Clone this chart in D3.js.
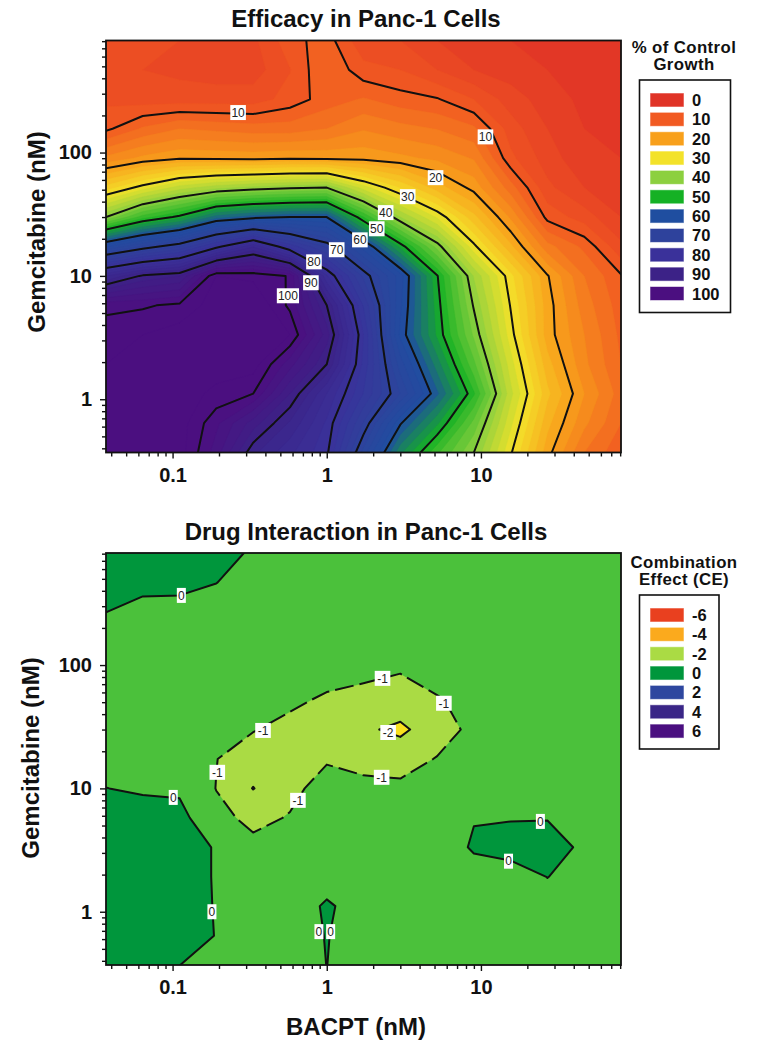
<!DOCTYPE html>
<html>
<head>
<meta charset="utf-8">
<script src="https://cdnjs.cloudflare.com/ajax/libs/d3/7.8.5/d3.min.js"></script>
<style>
  html, body { margin: 0; padding: 0; background: #fff; }
  svg { display: block; font-family: "Liberation Sans", Arial, sans-serif; }
</style>
</head>
<body>
<svg width="759" height="1050"></svg>
<script>
// Doses of the 3-fold dilution series, with the half steps
const bacptDoses = [0.037, 0.064, 0.111, 0.192, 0.333, 0.577, 1, 1.73, 3, 5.2, 9, 15.6, 27, 46.8, 81];
const gemDoses = [810, 468, 270, 156, 90, 52, 30, 17.3, 10, 5.77, 3.33, 1.92, 1.11, 0.64, 0.37];

// % of control growth, one column per BACPT dose, gemcitabine high to low
const efficacyColumns = [
  [8, 7, 7.5, 9.5, 16.5, 26.8, 40, 63.7, 86, 99.5, 101, 102, 102, 102, 102],
  [7, 6, 7, 12.3, 18.5, 31, 47, 68.4, 90.4, 99.7, 102, 102, 102, 102, 102],
  [6, 5.5, 7, 14, 19.7, 35, 50.7, 72, 92, 100.5, 103, 103, 103, 103, 103],
  [5.5, 5, 7, 13.5, 19.5, 37.3, 57, 79, 102, 103, 103, 103, 101.5, 98.5, 97],
  [5.5, 5, 7, 13, 19.3, 38.6, 59, 85.8, 101.5, 104, 104, 103, 100, 93, 88.5],
  [9.2, 7.9, 8.8, 13, 19.7, 39.5, 60, 77.3, 99.8, 99.5, 102, 96.8, 92, 87.7, 84.5],
  [11, 12, 11, 14, 19.5, 40, 60, 71.5, 82.3, 90, 93, 90, 84, 81.6, 80.5],
  [6.5, 8.7, 12.2, 15.8, 19.3, 33, 48, 63, 71.5, 75.8, 78, 77.4, 75.9, 71.8, 67.2],
  [6, 8, 10.9, 14.7, 18.5, 27.8, 38, 51.3, 63, 62.4, 61.5, 65, 67.9, 60.3, 54.4],
  [4, 6, 10.2, 13.9, 17.5, 23, 31.7, 41.2, 50.2, 51, 51.6, 55, 58.4, 52.4, 46.4],
  [3, 4, 8, 12.4, 15.8, 19.2, 24.6, 30.6, 37.8, 39.7, 41.6, 44.5, 48.3, 43.3, 40],
  [2, 3, 5, 7, 8.5, 12.9, 17.6, 22.5, 28.6, 29.8, 30.9, 32.9, 34.6, 32.5, 30.3],
  [1.5, 2, 3, 4, 5, 6.5, 9.3, 14.7, 20.2, 21, 21, 22.8, 24.5, 22.6, 20.8],
  [1, 1, 1.5, 2, 2.5, 4, 7, 11.5, 14, 15, 16, 16.5, 18, 16.5, 14],
  [1, 1, 1, 1.5, 2, 2.5, 4, 6.5, 10.2, 11, 11.5, 12, 13, 12, 10.5]
];

// Combination effect, one row per gemcitabine dose, high to low
const interactionRows = [
  [0.5, 0.5, 0.5, 0.3, -0.1, -0.4, -0.5, -0.5, -0.5, -0.5, -0.5, -0.5, -0.5, -0.5, -0.5],
  [0.4, 0.3, 0.3, 0.02, -0.5, -0.5, -0.5, -0.5, -0.5, -0.5, -0.5, -0.5, -0.5, -0.5, -0.5],
  [0.01, -0.33, -0.38, -0.5, -0.5, -0.5, -0.5, -0.5, -0.5, -0.5, -0.5, -0.5, -0.5, -0.5, -0.5],
  [-0.5, -0.5, -0.5, -0.5, -0.5, -0.5, -0.5, -0.55, -0.6, -0.5, -0.5, -0.5, -0.5, -0.5, -0.5],
  [-0.5, -0.5, -0.5, -0.5, -0.5, -0.55, -0.6, -0.85, -0.95, -0.5, -0.4, -0.4, -0.5, -0.5, -0.5],
  [-0.4, -0.4, -0.4, -0.5, -0.6, -0.8, -1.15, -1.2, -1.45, -1.1, -0.6, -0.5, -0.5, -0.5, -0.5],
  [-0.4, -0.4, -0.4, -0.6, -0.95, -1.3, -1.55, -1.85, -2.2, -1.45, -0.75, -0.5, -0.5, -0.5, -0.5],
  [-0.3, -0.3, -0.4, -0.98, -1.5, -1.5, -1.07, -1.25, -1.4, -0.95, -0.6, -0.5, -0.5, -0.5, -0.5],
  [0.01, -0.1, -0.15, -1.02, -2.03, -1.2, -0.7, -0.8, -0.8, -0.6, -0.4, -0.4, -0.5, -0.5, -0.5],
  [0.5, 0.35, 0.3, -0.77, -1.2, -0.95, -0.6, -0.5, -0.5, -0.4, -0.04, -0.07, -0.06, -0.5, -0.5],
  [0.6, 0.6, 0.5, -0.08, -0.8, -0.6, -0.5, -0.5, -0.5, -0.5, 0.1, 0.5, 0.6, -0.26, -0.5],
  [0.6, 0.6, 0.5, -0.08, -0.5, -0.5, -0.5, -0.5, -0.5, -0.5, -0.38, -0.61, 0.02, -0.5, -0.5],
  [0.6, 0.6, 0.5, -0.06, -0.5, -0.64, 0.15, -0.49, -0.5, -0.5, -0.5, -0.5, -0.5, -0.5, -0.5],
  [0.5, 0.5, 0.3, -0.02, -0.5, -0.7, 0.06, -0.7, -0.5, -0.5, -0.5, -0.5, -0.5, -0.5, -0.5],
  [0.4, 0.3, 0.01, -0.5, -0.5, -0.6, 0.01, -0.6, -0.5, -0.5, -0.5, -0.5, -0.5, -0.5, -0.5]
];

// Contour labels: [BACPT, gemcitabine, text]
const efficacyLabels = [
  [0.266, 211, "10"], [10.7, 134, "10"], [5.08, 62.6, "20"], [3.35, 43.9, "30"],
  [2.41, 32.6, "40"], [2.11, 24.1, "50"], [1.64, 19.6, "60"], [1.16, 16.3, "70"],
  [0.826, 13, "80"], [0.789, 8.8, "90"], [0.56, 6.9, "100"]
];
const interactionLabels = [
  [0.114, 367, "0"], [0.386, 29.5, "-1"], [0.195, 13.5, "-1"], [0.65, 8, "-1"],
  [2.3, 78, "-1"], [5.75, 49, "-1"], [2.27, 12.3, "-1"], [2.5, 28.4, "-2"],
  [0.101, 8.45, "0"], [0.18, 1, "0"], [0.89, 0.69, "0"], [1.06, 0.69, "0"],
  [24.3, 5.4, "0"], [15.1, 2.57, "0"]
];

const efficacyLevels = [10, 20, 30, 40, 50, 60, 70, 80, 90, 100];
const interactionLevels = [-2, -1, 0];

const efficacyLegend = [0, 10, 20, 30, 40, 50, 60, 70, 80, 90, 100];
const efficacyColors = ["#e03326", "#f15a22", "#f8a01b", "#f3e22a", "#8cd03f", "#15b124",
  "#1f4ea0", "#2e429c", "#3a319a", "#3c2287", "#4b0f80"];
const interactionLegend = [-6, -4, -2, 0, 2, 4, 6];
const interactionColors = ["#e9401f", "#fbaa1d", "#aadb44", "#00963c", "#2e479f", "#3a2687", "#4a0f80"];
const interactionBands = ["#f9e01e", "#aadb44", "#4bc13b", "#00963c"];

const xMajor = [0.1, 1, 10];
const yMajor = [1, 10, 100];

var svg = d3.select("svg");
var left = 106, right = 621, panelHeight = 412;

function minorTicks(lo, hi, major) {
  var out = [];
  for (var e = -3; e < 4; e++) {
    for (var m = 1; m < 10; m++) {
      var v = +(m * Math.pow(10, e)).toPrecision(2);
      if (v >= lo && v <= hi && major.indexOf(v) < 0) out.push(v);
    }
  }
  return out;
}

function drawPanel(opt) {
  var x = d3.scaleLog().domain([0.037, 81]).range([left, right]);
  var y = d3.scaleLog().domain([0.37, 810]).range([opt.top + panelHeight, opt.top]);

  // grid index -> pixel, contours put value i at coordinate i + 0.5
  var ix = d3.scaleLinear().domain(d3.range(15)).range(bacptDoses.map(d => x(d)));
  var iy = d3.scaleLinear().domain(d3.range(15)).range(gemDoses.map(d => y(d)));
  var path = d3.geoPath(d3.geoTransform({
    point: function(a, b) { this.stream.point(ix(a - 0.5), iy(b - 0.5)); }
  }));
  var contours = d3.contours().size([15, 15]).smooth(true);

  var clipId = "clip" + opt.top;
  svg.append("clipPath").attr("id", clipId).append("rect")
    .attr("x", left).attr("y", opt.top).attr("width", right - left).attr("height", panelHeight);

  var g = svg.append("g").attr("clip-path", "url(#" + clipId + ")");

  // base colour, then one filled band per threshold
  g.append("rect").attr("x", left).attr("y", opt.top)
    .attr("width", right - left).attr("height", panelHeight)
    .attr("fill", opt.base);

  g.selectAll("path.band")
    .data(contours.thresholds(opt.bands)(opt.values))
    .join("path")
    .attr("class", "band")
    .attr("d", path)
    .attr("fill", d => opt.bandColor(d.value))
    .attr("stroke", d => opt.bandColor(d.value))
    .attr("stroke-width", 0.4);

  // black contour lines
  g.selectAll("path.level")
    .data(contours.thresholds(opt.levels)(opt.values))
    .join("path")
    .attr("class", "level")
    .attr("d", path)
    .attr("fill", "none")
    .attr("stroke", "#111")
    .attr("stroke-width", 2)
    .attr("stroke-linejoin", "round")
    .attr("stroke-dasharray", d => d.value == -1 ? "19,6" : null);

  // contour labels
  var labels = svg.append("g").selectAll("g")
    .data(opt.labels)
    .join("g")
    .attr("transform", d => "translate(" + x(d[0]) + "," + y(d[1]) + ")");
  labels.append("rect")
    .attr("x", d => -(d[2].length * 3.3 + 1.2))
    .attr("y", -7.5)
    .attr("width", d => d[2].length * 6.6 + 2.4)
    .attr("height", 15)
    .attr("fill", "#fff");
  labels.append("text")
    .attr("text-anchor", "middle")
    .attr("y", 4.3)
    .attr("font-size", 12)
    .attr("fill", "#222")
    .text(d => d[2]);

  // frame
  svg.append("rect").attr("x", left).attr("y", opt.top)
    .attr("width", right - left).attr("height", panelHeight)
    .attr("fill", "none").attr("stroke", "#111").attr("stroke-width", 1.8);

  // axes
  var axisBottomG = svg.append("g").attr("transform", "translate(0," + (opt.top + panelHeight) + ")");
  axisBottomG.append("g").call(d3.axisBottom(x).tickValues(minorTicks(0.037, 81, xMajor)).tickSize(4).tickFormat(""));
  axisBottomG.append("g").call(d3.axisBottom(x).tickValues(xMajor).tickSize(6).tickPadding(9).tickFormat(d => d));

  var axisLeftG = svg.append("g").attr("transform", "translate(" + left + ",0)");
  axisLeftG.append("g").call(d3.axisLeft(y).tickValues(minorTicks(0.37, 810, yMajor)).tickSize(4).tickFormat(""));
  axisLeftG.append("g").call(d3.axisLeft(y).tickValues(yMajor).tickSize(6).tickPadding(8).tickFormat(d => d));

  svg.selectAll(".domain").remove();
  svg.selectAll(".tick line").attr("stroke", "#111").attr("stroke-width", 1.4);
  svg.selectAll(".tick text").attr("font-size", 20).attr("font-weight", "bold")
    .attr("font-family", "Liberation Sans").attr("fill", "#111");

  // titles
  svg.append("text")
    .attr("x", 366).attr("y", opt.titleY)
    .attr("text-anchor", "middle").attr("font-size", 24).attr("font-weight", "bold").attr("fill", "#111")
    .text(opt.title);

  svg.append("text")
    .attr("transform", "translate(" + opt.yTitleX + "," + opt.yTitleY + ") rotate(-90)")
    .attr("text-anchor", "middle").attr("font-size", 24).attr("font-weight", "bold").attr("fill", "#111")
    .text("Gemcitabine (nM)");

  // legend
  var lg = svg.append("g");
  opt.legendTitle.forEach(function(t, i) {
    lg.append("text")
      .attr("x", 684).attr("y", opt.legendTitleY + i * 17.2)
      .attr("text-anchor", "middle").attr("font-size", 16.8).attr("letter-spacing", 0.4)
      .attr("font-weight", "bold").attr("fill", "#111")
      .text(t);
  });
  lg.append("rect")
    .attr("x", 639.5).attr("y", opt.legendTop)
    .attr("width", opt.legendWidth).attr("height", opt.legendHeight)
    .attr("fill", "#fff").attr("stroke", "#111").attr("stroke-width", 1.6);

  var rows = lg.selectAll("g.row")
    .data(opt.legendValues)
    .join("g")
    .attr("class", "row")
    .attr("transform", (d, i) => "translate(650.5," + (opt.legendTop + 13.5 + i * 19.35) + ")");
  rows.append("rect")
    .attr("width", 33).attr("height", 13)
    .attr("fill", (d, i) => opt.legendColors[i])
    .attr("stroke", (d, i) => opt.legendColors[i])
    .attr("stroke-opacity", 0.45);
  rows.append("text")
    .attr("x", 41.5).attr("y", 12.5)
    .attr("font-size", 16.5).attr("font-weight", "bold").attr("fill", "#111")
    .text(d => d);
}

var efficacyColor = d3.scaleLinear().domain(efficacyLegend).range(efficacyColors);

drawPanel({
  top: 40.5,
  title: "Efficacy in Panc-1 Cells",
  titleY: 27,
  yTitleX: 45,
  yTitleY: 232,
  values: d3.merge(d3.transpose(efficacyColumns)),
  base: efficacyColor(0),
  bands: d3.range(0, 106, 2),
  bandColor: v => efficacyColor(Math.min(v + 1, 100)),
  levels: efficacyLevels,
  labels: efficacyLabels,
  legendTitle: ["% of Control", "Growth"],
  legendTitleY: 52.5,
  legendTop: 80,
  legendWidth: 91,
  legendHeight: 232.5,
  legendValues: efficacyLegend,
  legendColors: efficacyColors
});

drawPanel({
  top: 553,
  title: "Drug Interaction in Panc-1 Cells",
  titleY: 540,
  yTitleX: 39,
  yTitleY: 758,
  values: d3.merge(interactionRows),
  base: interactionBands[0],
  bands: interactionLevels,
  bandColor: v => interactionBands[interactionLevels.indexOf(v) + 1],
  levels: interactionLevels,
  labels: interactionLabels,
  legendTitle: ["Combination", "Effect (CE)"],
  legendTitleY: 567.5,
  legendTop: 595,
  legendWidth: 79.5,
  legendHeight: 154,
  legendValues: interactionLegend,
  legendColors: interactionColors
});

svg.append("text")
  .attr("x", 356).attr("y", 1035)
  .attr("text-anchor", "middle").attr("font-size", 24).attr("font-weight", "bold").attr("fill", "#111")
  .text("BACPT (nM)");
</script>
</body>
</html>
